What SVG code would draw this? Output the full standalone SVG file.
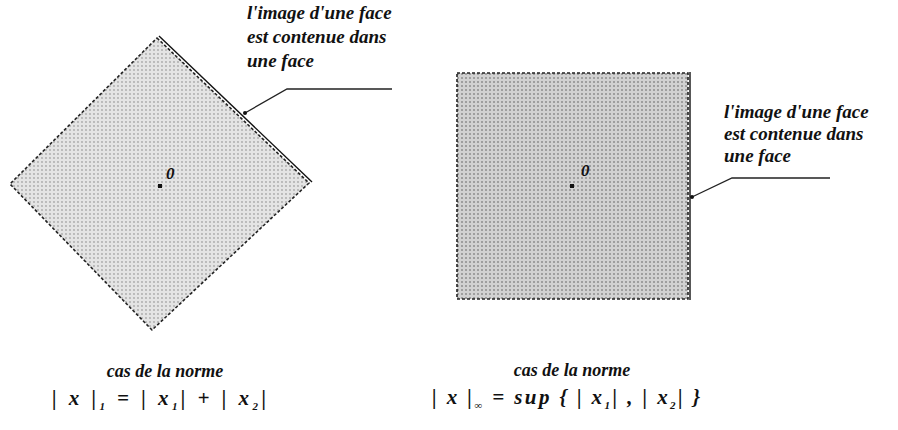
<svg xmlns="http://www.w3.org/2000/svg" width="898" height="430" viewBox="0 0 898 430">
  <style>
    .t { font-family: "Liberation Serif", "DejaVu Serif", serif; font-style: italic; font-weight: bold; fill: #111; }
    .lbl { font-size: 19px; }
    .cap { font-size: 18px; }
    .frm { font-size: 21px; }
    .sub { font-size: 11px; }
    .edge { stroke: #222; stroke-width: 1.6; stroke-dasharray: 3 2; }
    .light { fill: url(#dotsLight); }
    .dark { fill: url(#dotsDark); }
    .solid { fill: none; stroke: #111; stroke-width: 1.4; }
    .lead { fill: none; stroke: #222; stroke-width: 1.3; }
  </style>
  <defs>
    <pattern id="dotsLight" width="4" height="4" patternUnits="userSpaceOnUse">
      <rect width="4" height="4" fill="#e4e4e4"/>
      <circle cx="2" cy="2" r="0.9" fill="#a8a8a8"/>
    </pattern>
    <pattern id="dotsDark" width="4" height="4" patternUnits="userSpaceOnUse">
      <rect width="4" height="4" fill="#d2d2d2"/>
      <circle cx="2" cy="2" r="1" fill="#8e8e8e"/>
    </pattern>
  </defs>
  <rect width="898" height="430" fill="#fff"/>

  <g id="diamond">
    <polygon points="157,38 309,183 152,330 10,184" class="edge light"/>
    <line x1="159" y1="36" x2="312" y2="182" class="solid"/>
    <rect x="158" y="184" width="4" height="4" fill="#111"/>
    <text x="166" y="179" class="t" font-size="17">0</text>
  </g>

  <g id="square">
    <rect x="457" y="73" width="231" height="226" class="edge dark"/>
    <line x1="690" y1="72" x2="690" y2="300" class="solid"/>
    <rect x="570" y="184" width="4" height="4" fill="#111"/>
    <text x="581" y="176" class="t" font-size="17">0</text>
  </g>

  <g id="connectors">
    <polyline points="245,113 287,89 392,89" class="lead"/>
    <circle cx="245" cy="113" r="2" fill="#111"/>
    <polyline points="692,197 732,178 830,178" class="lead"/>
    <circle cx="692" cy="197" r="2" fill="#111"/>
  </g>

  <g id="label-left">
    <text class="t lbl" x="247" y="19">l'image d'une face</text>
    <text class="t lbl" x="247" y="43">est contenue dans</text>
    <text class="t lbl" x="247" y="67">une face</text>
  </g>

  <g id="label-right">
    <text class="t lbl" x="724" y="118">l'image d'une face</text>
    <text class="t lbl" x="724" y="140">est contenue dans</text>
    <text class="t lbl" x="724" y="162">une face</text>
  </g>

  <g id="caption-left">
    <text class="t cap" x="165" y="377" text-anchor="middle">cas de la norme</text>
    <text class="t frm" x="52" y="405" textLength="214" lengthAdjust="spacing">| x |<tspan class="sub" dy="5">1</tspan><tspan dy="-5"> = | x</tspan><tspan class="sub" dy="5">1</tspan><tspan dy="-5">| + | x</tspan><tspan class="sub" dy="5">2</tspan><tspan dy="-5">|</tspan></text>
  </g>

  <g id="caption-right">
    <text class="t cap" x="572" y="376" text-anchor="middle">cas de la norme</text>
    <text class="t frm" x="432" y="404" textLength="268" lengthAdjust="spacing">| x |<tspan class="sub" dy="5">∞</tspan><tspan dy="-5"> = sup { | x</tspan><tspan class="sub" dy="5">1</tspan><tspan dy="-5">| , | x</tspan><tspan class="sub" dy="5">2</tspan><tspan dy="-5">| }</tspan></text>
  </g>
</svg>
